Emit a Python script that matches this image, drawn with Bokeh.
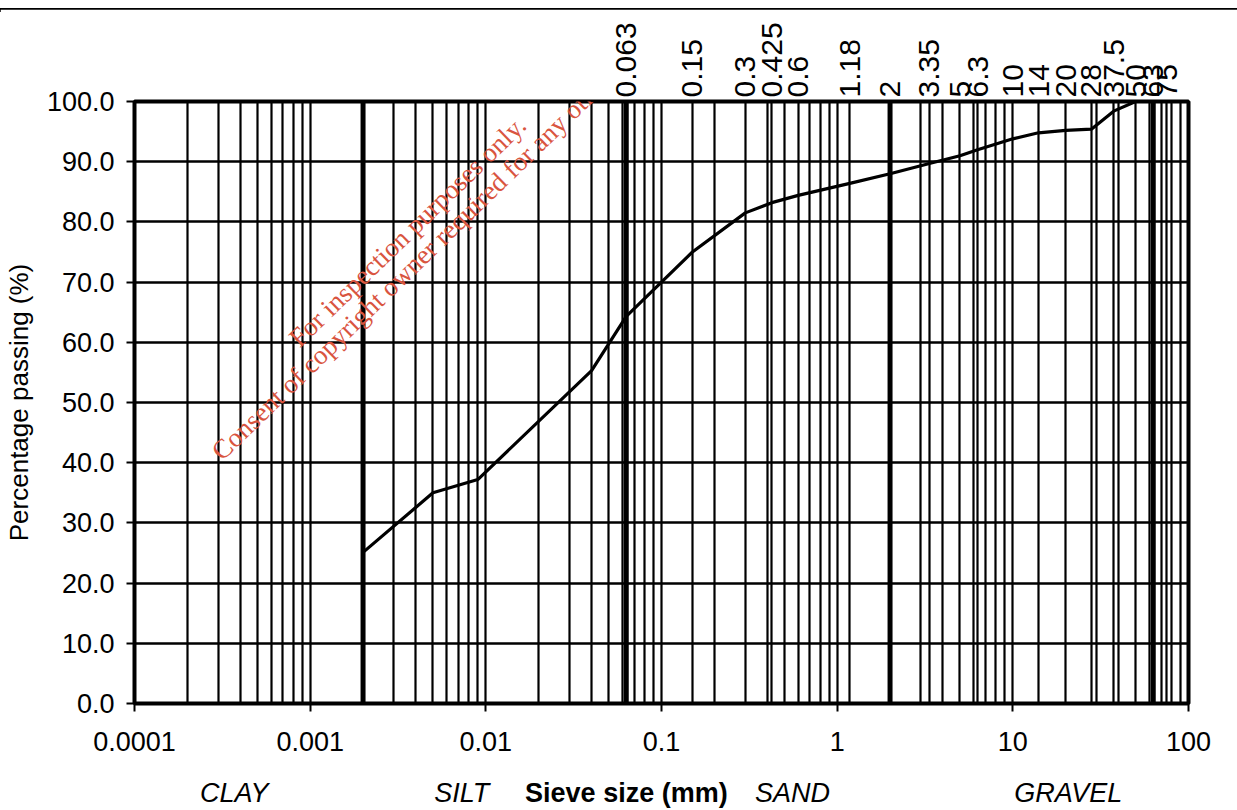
from bokeh.plotting import figure
from bokeh.models import LogAxis, FixedTicker, Span, Label, Div, Range1d, PrintfTickFormatter
from bokeh.core.properties import value
from bokeh.layouts import column
from bokeh.embed import file_html
from bokeh.resources import INLINE

# ---------------- data ----------------
sieve_mm = [0.002, 0.005, 0.009, 0.04, 0.063, 0.15, 0.3, 0.425, 0.6, 1.18,
            2, 3.35, 5, 6.3, 10, 14, 20, 28, 37.5, 50]
passing_pct = [25.1, 35.0, 37.2, 55.3, 64.3, 75.0, 81.5, 83.2, 84.4, 86.4,
               88.0, 89.7, 91.0, 92.0, 93.8, 94.8, 95.2, 95.4, 98.4, 100.0]
top_sieve_labels = ["0.063", "0.15", "0.3", "0.425", "0.6", "1.18", "2", "3.35", "5",
                    "6.3", "10", "14", "20", "28", "37.5", "50", "63", "75"]
bottom_tick_labels = ["0.0001", "0.001", "0.01", "0.1", "1", "10", "100"]
y_tick_values = [0, 10, 20, 30, 40, 50, 60, 70, 80, 90, 100]
boundary_mm = [0.002, 0.063, 2, 63]
soil_classes = ["CLAY", "SILT", "SAND", "GRAVEL"]
x_title = "Sieve size (mm)"
y_title = "Percentage passing (%)"
watermark = ["For inspection purposes only.",
             "Consent of copyright owner required for any other use."]

FONT = "Liberation Sans"
W = 1237
LEFT, RIGHT = 134, 49

# log grid lines (1..9 per decade) plus the sieve sizes
decades = [float(s) for s in bottom_tick_labels]
grid_x = []
for d in decades[:-1]:
    for m in range(1, 10):
        grid_x.append(d * m)
grid_x.append(decades[-1])
grid_x += [float(s) for s in top_sieve_labels]

xr = Range1d(1e-4, 100)
p = figure(width=W, height=761, x_axis_type="log",
           x_range=xr, y_range=Range1d(0, 100),
           output_backend="svg", toolbar_location=None,
           min_border_left=LEFT, min_border_right=RIGHT,
           min_border_top=92, min_border_bottom=67,
           background_fill_color="white", border_fill_color="white")

p.outline_line_color = "black"
p.outline_line_width = 4

p.xgrid.ticker = FixedTicker(ticks=grid_x)
p.xgrid.grid_line_color = "black"
p.xgrid.grid_line_width = 2.2
p.ygrid.ticker = FixedTicker(ticks=y_tick_values)
p.ygrid.grid_line_color = "black"
p.ygrid.grid_line_width = 2.6

for b in boundary_mm:
    p.add_layout(Span(location=b, dimension="height", line_color="black", line_width=5))

p.line(sieve_mm, passing_pct, line_color="black", line_width=3.2)

# left axis
ya = p.yaxis[0]
ya.ticker = FixedTicker(ticks=y_tick_values)
ya.formatter = PrintfTickFormatter(format="%.1f")
ya.axis_line_color = None
ya.major_tick_out = 8
ya.major_tick_in = 0
ya.major_tick_line_width = 2
ya.minor_tick_line_color = None
ya.major_label_standoff = 12
ya.major_label_text_font = FONT
ya.major_label_text_font_size = "27px"
ya.major_label_text_color = "black"
ya.axis_label = y_title
ya.axis_label_text_font = FONT
ya.axis_label_text_font_size = "26px"
ya.axis_label_text_font_style = "normal"
ya.axis_label_text_color = "black"
ya.axis_label_standoff = 10

# bottom axis
xa = p.xaxis[0]
xa.ticker = FixedTicker(ticks=decades)
xa.major_label_overrides = {float(s): s for s in bottom_tick_labels}
xa.axis_line_color = None
xa.major_tick_out = 8
xa.major_tick_in = 0
xa.major_tick_line_width = 2
xa.minor_tick_line_color = None
xa.major_label_standoff = 20
xa.major_label_text_font = FONT
xa.major_label_text_font_size = "27px"
xa.major_label_text_color = "black"

# top axis with sieve sizes
top = LogAxis(ticker=FixedTicker(ticks=[float(s) for s in top_sieve_labels]),
              major_label_overrides={float(s): s for s in top_sieve_labels},
              major_label_orientation="vertical",
              axis_line_color=None, major_tick_line_color=None,
              minor_tick_line_color=None, major_tick_out=0, major_tick_in=0,
              major_label_standoff=4,
              major_label_text_font=FONT, major_label_text_font_size="30px",
              major_label_text_color="black")
p.add_layout(top, "above")

# watermark
wm_pos = [(0.00358, 78.4), (0.00478, 75.6)]
for t, (xv, yv) in zip(watermark, wm_pos):
    p.add_layout(Label(x=xv, y=yv, text=t, angle=0.77, text_font="Liberation Serif",
                       text_font_size="27px", text_color="#d9553f",
                       text_align="center", text_baseline="middle"))

# strip below the axis with the soil classes and the axis title (same x scale)
q = figure(width=W, height=40, x_axis_type="log", x_range=xr, y_range=Range1d(0, 1),
           output_backend="svg", toolbar_location=None,
           x_axis_location=None, y_axis_location=None,
           min_border_left=LEFT, min_border_right=RIGHT,
           min_border_top=0, min_border_bottom=0,
           background_fill_color="white", border_fill_color="white")
q.outline_line_color = None
q.xgrid.visible = False
q.ygrid.visible = False
class_x = [0.00037, 0.0073, 0.556, 20.7]
q.text(x=class_x, y=[0.45] * len(class_x), text=soil_classes,
       text_font=value(FONT), text_font_style="italic", text_font_size="27px",
       text_color="black", text_align="center", text_baseline="middle")
q.text(x=[0.0631], y=[0.45], text=[x_title],
       text_font=value(FONT), text_font_style="bold", text_font_size="27px",
       text_color="black", text_align="center", text_baseline="middle")

bar = Div(text='<div style="margin-top:3px;height:4px;width:1237px;background:#000;"></div>',
          width=W, height=9, margin=0)
layout = column(bar, p, q, spacing=0)

open("out.html", "w").write(file_html(layout, INLINE))
